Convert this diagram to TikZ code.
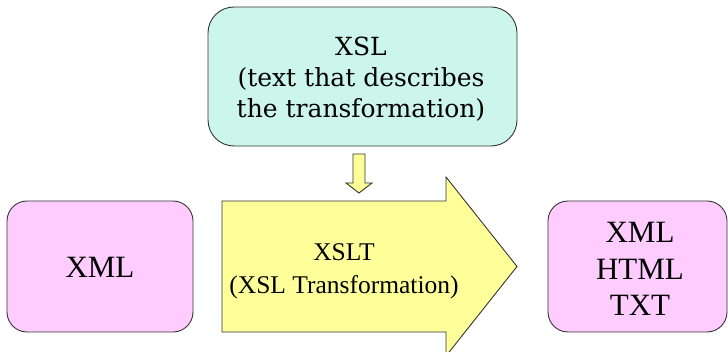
\documentclass[tikz,border=0pt]{standalone}
\usepackage{fontspec}
\setmainfont{Liberation Serif}
\newfontfamily\xslfont{DejaVu Serif}
\definecolor{xslfill}{HTML}{CCF5EB}
\definecolor{pinkfill}{HTML}{FFCCFF}
\definecolor{yelfill}{HTML}{FFFF99}
\definecolor{edge}{HTML}{333333}
\tikzset{
  rbox/.style={draw=edge, line width=0.9pt, rounded corners=#1, inner sep=0pt},
  arrowshape/.style={draw=edge, line width=0.9pt, fill=yelfill, line join=miter},
}
\begin{document}
\begin{tikzpicture}[x=1pt,y=-1pt]
\useasboundingbox (0,0) rectangle (728,352);
% XSL box
\draw[rbox=26pt, fill=xslfill] (208,7) rectangle (517,146);
\node[align=center, font=\xslfont\fontsize{25}{31}\selectfont] (xsl) at (361,79) {XSL\\(text that describes\\the transformation)};
% small arrow
\draw[arrowshape] (353,154) -- (365,154) -- (365,183) -- (372,183) -- (359,193) -- (346,183) -- (353,183) -- cycle;
% big arrow
\draw[arrowshape] (222,201) -- (446,201) -- (446,177) -- (517,266.5) -- (446,356) -- (446,332) -- (222,332) -- cycle;
\node[align=center, font=\fontsize{25.5}{33}\selectfont] (xslt) at (344,271) {XSLT\\(XSL Transformation)};
% left box
\draw[rbox=20pt, fill=pinkfill] (7,201) rectangle (193,332);
\node[font=\fontsize{31}{36}\selectfont] (xml) at (100,267) {XML};
% right box
\draw[rbox=20pt, fill=pinkfill] (548,201) rectangle (727,332);
\node[align=center, font=\fontsize{31}{36.5}\selectfont] (out) at (640,269) {XML\\HTML\\TXT};
\end{tikzpicture}
\end{document}
